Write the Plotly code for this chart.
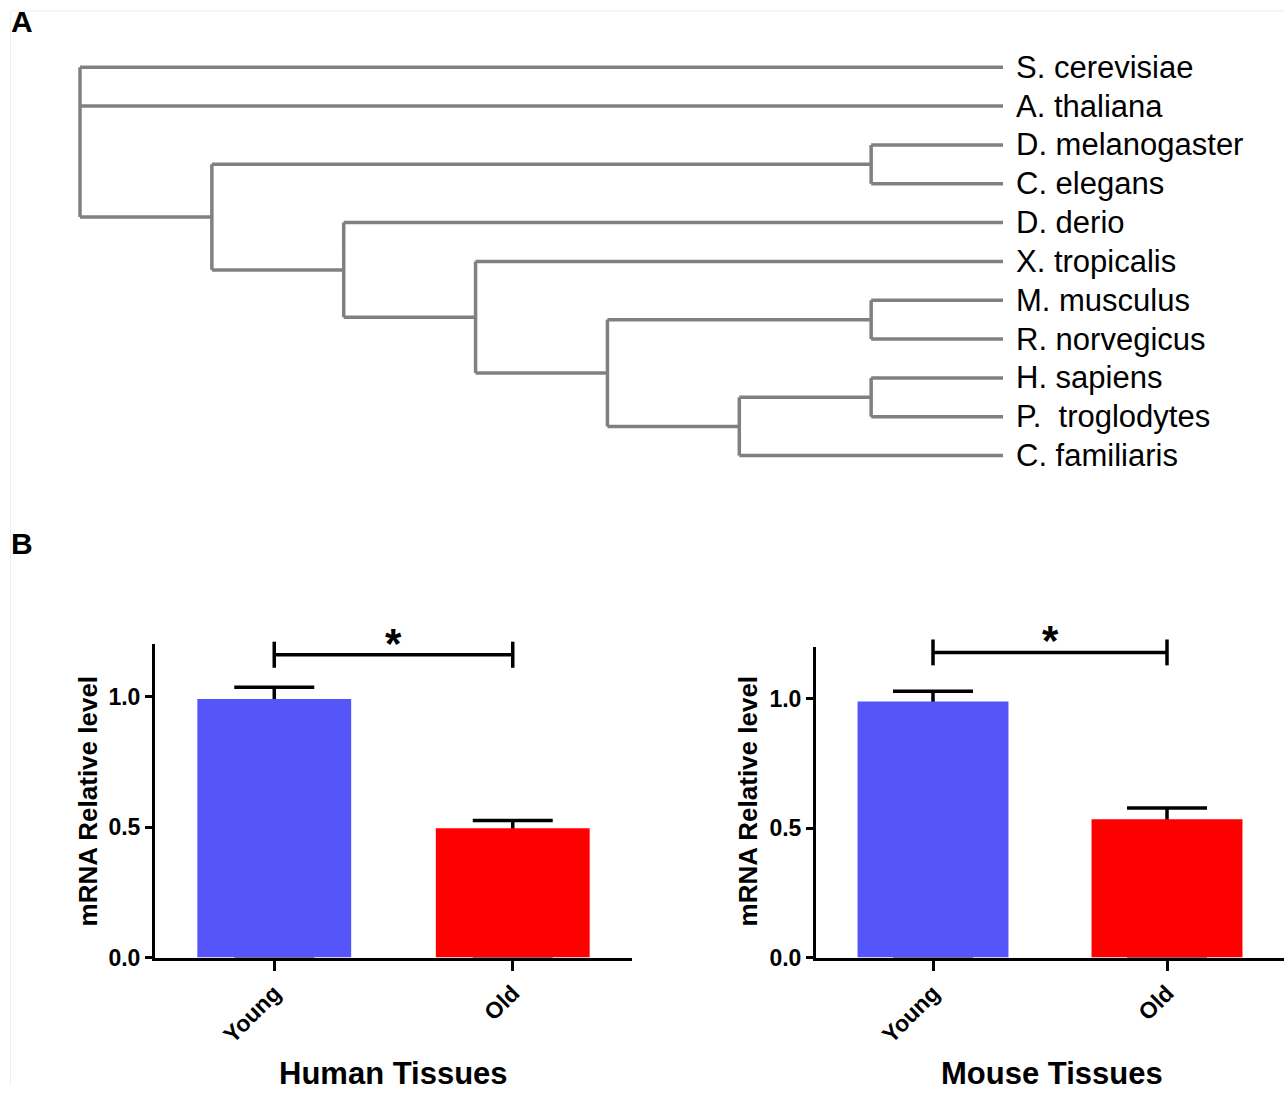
import plotly.graph_objects as go

# ---------------- Data ----------------
# Panel A: phylogenetic tree
leaf_names = ["S. cerevisiae", "A. thaliana", "D. melanogaster", "C. elegans", "D. derio",
              "X. tropicalis", "M. musculus", "R. norvegicus", "H. sapiens",
              "P.  troglodytes", "C. familiaris"]
leaf_depth = 7
node_depth = {"root": 0, "n1": 1, "n_dc": 6, "n2": 2, "n3": 3, "n4": 4, "n_mr": 6, "n5": 5, "n_hp": 6}
node_children = {
    "root": ["S. cerevisiae", "A. thaliana", "n1"],
    "n1": ["n_dc", "n2"],
    "n_dc": ["D. melanogaster", "C. elegans"],
    "n2": ["D. derio", "n3"],
    "n3": ["X. tropicalis", "n4"],
    "n4": ["n_mr", "n5"],
    "n_mr": ["M. musculus", "R. norvegicus"],
    "n5": ["n_hp", "C. familiaris"],
    "n_hp": ["H. sapiens", "P.  troglodytes"],
}

# Panel B: bar charts
categories = ["Young", "Old"]
human_values = [0.99, 0.495]
human_errors = [0.045, 0.03]
mouse_values = [0.99, 0.535]
mouse_errors = [0.04, 0.043]
human_sig_y = 1.16
mouse_sig_y = 1.18
y_ticks = [0.0, 0.5, 1.0]
Y_MAX = 1.2

BLUE = "#5555FA"
RED = "#FF0000"
GRAY = "#808080"
FONT = "Liberation Sans, Arial, sans-serif"

W, H = 1284, 1099

fig = go.Figure()

# ---------------- Dendrogram ----------------
def node_y(name):
    if name in leaf_names:
        return float(leaf_names.index(name))
    ys = [node_y(c) for c in node_children[name]]
    return (min(ys) + max(ys)) / 2.0

def depth(name):
    return leaf_depth if name in leaf_names else node_depth[name]

xs, ys = [], []
for n, ch in node_children.items():
    cy = [node_y(c) for c in ch]
    d = node_depth[n]
    xs += [d, d, None]
    ys += [min(cy), max(cy), None]
    for c in ch:
        xs += [d, depth(c), None]
        ys += [node_y(c), node_y(c), None]

fig.add_trace(go.Scatter(x=xs, y=ys, mode="lines", line=dict(color=GRAY, width=3.5),
                         xaxis="x3", yaxis="y3", hoverinfo="skip", showlegend=False))

# ---------------- Bar charts ----------------
xpos = list(range(len(categories)))

def add_bars(values, errors, xa, ya):
    # error-bar carrier (under the visible bars so only the upper part shows)
    fig.add_trace(go.Bar(x=xpos, y=values, width=0.645, xaxis=xa, yaxis=ya,
                         marker=dict(color="rgba(0,0,0,0)", line=dict(width=0)),
                         error_y=dict(type="data", array=errors, arrayminus=values,
                                      symmetric=False, color="black", thickness=3.5, width=40),
                         hoverinfo="skip", showlegend=False))
    fig.add_trace(go.Bar(x=xpos, y=values, width=0.645, xaxis=xa, yaxis=ya,
                         marker=dict(color=[BLUE, RED], line=dict(width=0)),
                         showlegend=False))

add_bars(human_values, human_errors, "x", "y")
add_bars(mouse_values, mouse_errors, "x2", "y2")

# Significance brackets
def add_bracket(xa, ya, sig_y):
    yd = ya + " domain"
    h = 0.05 / Y_MAX
    m = sig_y / Y_MAX
    line = dict(color="black", width=3.5)
    fig.add_shape(type="line", xref=xa, yref=yd, x0=xpos[0], x1=xpos[1], y0=m, y1=m, line=line)
    fig.add_shape(type="line", xref=xa, yref=yd, x0=xpos[0], x1=xpos[0], y0=m - h, y1=m + h, line=line)
    fig.add_shape(type="line", xref=xa, yref=yd, x0=xpos[1], x1=xpos[1], y0=m - h, y1=m + h, line=line)
    fig.add_annotation(text="<b>*</b>", xref=xa, yref=yd, x=(xpos[0] + xpos[1]) / 2, y=m,
                       yanchor="bottom", yshift=-14, showarrow=False,
                       font=dict(family=FONT, size=42, color="black"))

add_bracket("x", "y", human_sig_y)
add_bracket("x2", "y2", mouse_sig_y)

# ---------------- Layout ----------------
def px_x(p):
    return p / W

def px_y(p):
    return 1 - p / H

TICKFONT = dict(family=FONT, size=23, color="black", weight="bold")
xcommon = dict(range=[-0.5, 1.5], tickvals=xpos, ticktext=categories, tickangle=-45,
               showline=True, linecolor="black", linewidth=3, ticks="outside",
               ticklen=10, tickwidth=3, tickcolor="black", showgrid=False, zeroline=False,
               tickfont=TICKFONT, fixedrange=True)
ycommon = dict(range=[0, Y_MAX], tickvals=y_ticks, tickformat=".1f",
               showline=True, linecolor="black", linewidth=3, ticks="outside",
               ticklen=7, tickwidth=3, tickcolor="black", showgrid=False, zeroline=False,
               tickfont=TICKFONT, fixedrange=True)

fig.update_layout(
    width=W, height=H, margin=dict(l=0, r=0, t=0, b=0),
    paper_bgcolor="white", plot_bgcolor="white", showlegend=False,
    barmode="overlay",
    font=dict(family=FONT, color="black"),
    xaxis=dict(domain=[px_x(155), px_x(632)], anchor="y", **xcommon),
    yaxis=dict(domain=[px_y(969), px_y(652)], anchor="x", **ycommon),
    xaxis2=dict(domain=[px_x(816), 1.0], anchor="y2", **xcommon),
    yaxis2=dict(domain=[px_y(969), px_y(655)], anchor="x2", **ycommon),
    xaxis3=dict(domain=[0, 1], range=[-0.6067, 9.131], visible=False, fixedrange=True),
    yaxis3=dict(domain=[px_y(500), px_y(30)], range=[10.992, -0.967], visible=False, fixedrange=True,
                anchor="x3"),
)

# Faint frame lines of the original figure
frame = dict(color="#EEEEEE", width=1)
fig.add_shape(type="line", xref="paper", yref="paper", x0=px_x(10.5), x1=1, y0=px_y(11), y1=px_y(11), line=frame)
fig.add_shape(type="line", xref="paper", yref="paper", x0=px_x(10.5), x1=px_x(10.5), y0=px_y(11), y1=0, line=frame)

# Leaf labels
for i, name in enumerate(leaf_names):
    fig.add_annotation(text=name, xref="x3", yref="y3", x=leaf_depth, y=i, xanchor="left",
                       yanchor="middle", xshift=11, showarrow=False,
                       font=dict(family=FONT, size=31, color="black"))

# Axis titles
for xc, title in [(393, "Human Tissues"), (1052, "Mouse Tissues")]:
    fig.add_annotation(text="<b>" + title + "</b>", xref="paper", yref="paper", x=px_x(xc),
                       y=px_y(1086), xanchor="center", yanchor="middle", showarrow=False,
                       font=dict(family=FONT, size=31, color="black"))
for xc in [88, 748]:
    fig.add_annotation(text="<b>mRNA Relative level</b>", xref="paper", yref="paper", x=px_x(xc),
                       y=px_y(811), xanchor="center", yanchor="middle", textangle=-90,
                       showarrow=False, font=dict(family=FONT, size=26, color="black"))

# Panel letters
for letter, yc in [("A", 22), ("B", 550)]:
    fig.add_annotation(text="<b>" + letter + "</b>", xref="paper", yref="paper", x=px_x(22),
                       y=px_y(yc), xanchor="center", yanchor="middle", showarrow=False,
                       font=dict(family=FONT, size=30, color="black"))

fig.write_html("out.html")
